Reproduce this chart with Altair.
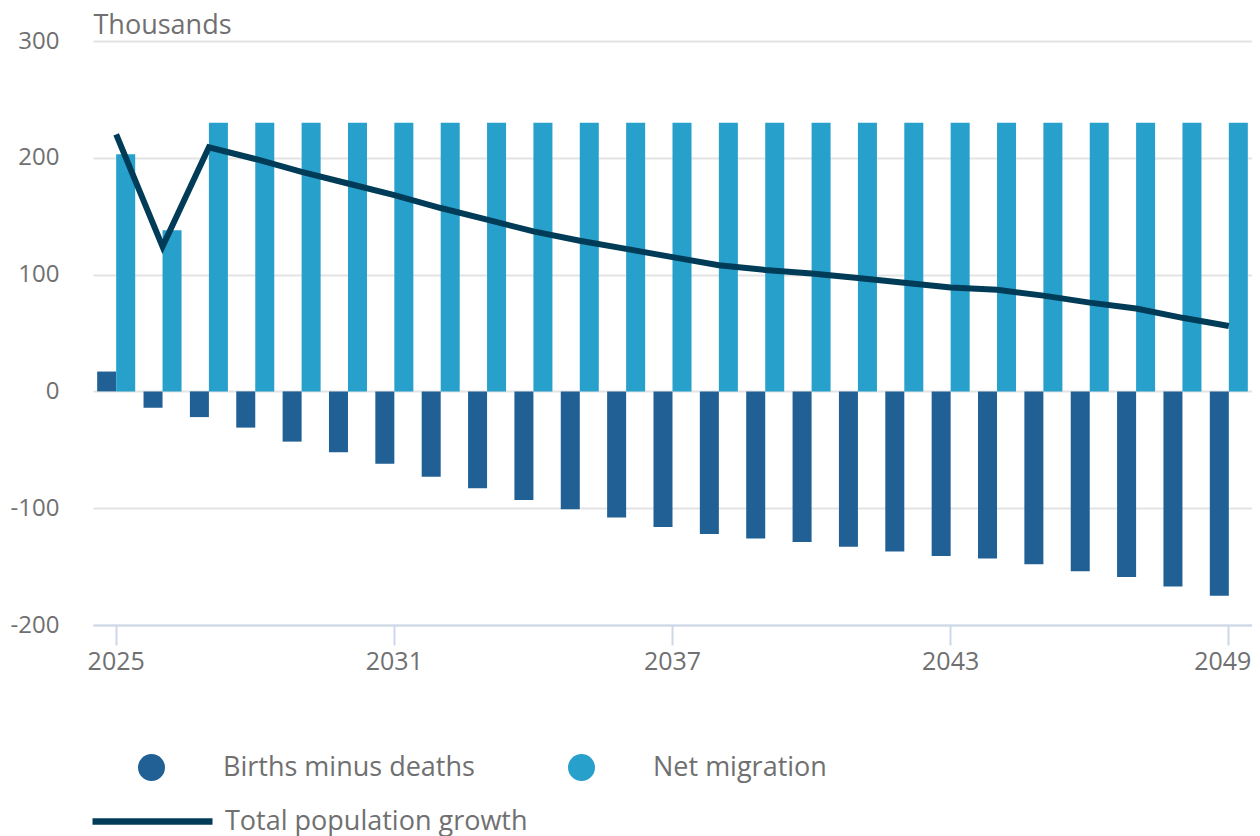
import altair as alt
import pandas as pd

years = list(range(2025, 2050))
births_minus_deaths = [17, -14, -22, -31, -43, -52, -62, -73, -83, -93, -101, -108, -116,
                       -122, -126, -129, -133, -137, -141, -143, -148, -154, -159, -167, -175]
net_migration = [203, 138] + [230] * 23
total_growth = [220, 124, 209, 199, 188, 178, 168, 157, 147, 137, 129, 122, 115,
                108, 104, 101, 97, 93, 89, 87, 82, 76, 71, 63, 56]

series_names = ["Births minus deaths", "Net migration"]
line_name = "Total population growth"
x_tick_years = [2025, 2031, 2037, 2043, 2049]
y_ticks = [-200, -100, 0, 100, 200, 300]

bars = pd.DataFrame({
    "year": years * 2,
    "series": [series_names[0]] * len(years) + [series_names[1]] * len(years),
    "value": births_minus_deaths + net_migration,
})
line = pd.DataFrame({"year": years, "value": total_growth, "series": line_name})

GRAY = "#707071"
FONT = "Open Sans"

x_enc = alt.X(
    "year:O",
    scale=alt.Scale(paddingInner=0.18, paddingOuter=0.09, round=False),
    axis=alt.Axis(
        values=x_tick_years, title=None, labelAngle=0, grid=False,
        domainColor="#cdd7ea", domainWidth=2, tickColor="#cdd7ea", tickWidth=2,
        tickSize=20, labelPadding=4, labelFontSize=25, labelColor=GRAY, labelFont=FONT,
        labelOffset={"condition": {"test": "datum.value == 2049", "value": -6}, "value": 0},
    ),
)
y_enc = alt.Y(
    "value:Q",
    scale=alt.Scale(domain=[-200, 300], nice=False, zero=False),
    axis=alt.Axis(
        values=y_ticks, title="Thousands", titleAngle=0, titleAlign="left",
        titleBaseline="alphabetic", titleX=0, titleY=-8, titleFontSize=27,
        titleFontWeight="normal", titleColor=GRAY, titleFont=FONT,
        labelExpr="datum.value + ''", labelFontSize=24, labelColor=GRAY, labelFont=FONT,
        labelPadding=34, ticks=False, domain=False,
        gridColor="#e3e3e3", gridWidth=2,
    ),
)

bar_layer = alt.Chart(bars).mark_bar().encode(
    x=x_enc,
    y=y_enc,
    xOffset=alt.XOffset("series:N", scale=alt.Scale(domain=series_names, paddingInner=0, paddingOuter=0)),
    color=alt.Color(
        "series:N",
        scale=alt.Scale(domain=series_names, range=["#206095", "#27a0cc"]),
        legend=alt.Legend(
            title=None, orient="none", legendX=45, legendY=713, direction="horizontal",
            columns=2, symbolType="circle", symbolSize=729, symbolStrokeWidth=0,
            labelFontSize=27, labelColor=GRAY, labelFont=FONT, labelOffset=58,
            columnPadding=93, labelLimit=500,
        ),
    ),
)

line_layer = alt.Chart(line).mark_line(strokeWidth=6).encode(
    x=alt.X("year:O"),
    y=alt.Y("value:Q"),
    stroke=alt.Stroke(
        "series:N",
        scale=alt.Scale(domain=[line_name], range=["#003c57"]),
        legend=alt.Legend(
            title=None, orient="none", legendX=-4, legendY=717, symbolType="stroke",
            symbolSize=14400, symbolStrokeWidth=6.5, labelFontSize=27, labelColor=GRAY,
            labelFont=FONT, labelOffset=9, labelLimit=500,
        ),
    ),
)

chart = alt.layer(bar_layer, line_layer).resolve_scale(color="independent").properties(
    width=1159, height=584,
    autosize=alt.AutoSizeParams(type="none"),
    padding={"left": 85, "top": 33, "right": 0, "bottom": 211},
).configure(font=FONT).configure_view(stroke=None)

chart.save("out.html", embed_options={"renderer": "svg", "actions": False})
